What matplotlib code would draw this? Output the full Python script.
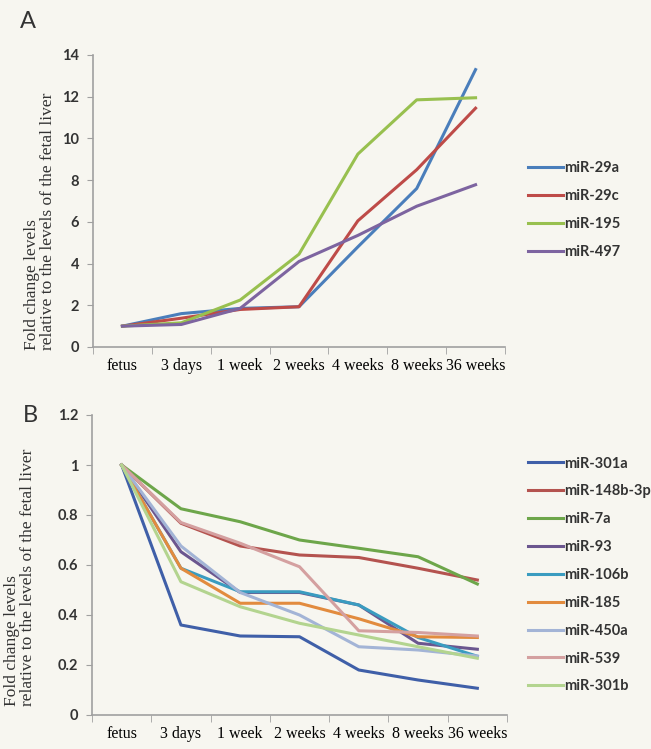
import matplotlib.pyplot as plt
from matplotlib.ticker import FixedLocator, FuncFormatter

# time points on the x axis
stages = ['fetus', '3 days', '1 week', '2 weeks', '4 weeks', '8 weeks', '36 weeks']

# panel A: up-regulated miRNAs
mir_29a = [1.0, 1.6, 1.85, 1.93, 4.8, 7.6, 13.3]
mir_29c = [1.0, 1.38, 1.8, 1.93, 6.05, 8.5, 11.45]
mir_195 = [1.0, 1.16, 2.25, 4.45, 9.25, 11.85, 11.95]
mir_497 = [1.0, 1.08, 1.85, 4.1, 5.35, 6.75, 7.78]

# panel B: down-regulated miRNAs
mir_301a = [1.0, 0.36, 0.316, 0.313, 0.18, 0.14, 0.107]
mir_148b = [1.0, 0.767, 0.676, 0.64, 0.63, 0.587, 0.54]
mir_7a = [1.0, 0.825, 0.773, 0.70, 0.667, 0.633, 0.524]
mir_93 = [1.0, 0.653, 0.49, 0.49, 0.44, 0.287, 0.263]
mir_106b = [1.0, 0.587, 0.493, 0.493, 0.44, 0.31, 0.235]
mir_185 = [1.0, 0.587, 0.447, 0.447, 0.385, 0.313, 0.31]
mir_450a = [1.0, 0.676, 0.49, 0.40, 0.273, 0.26, 0.236]
mir_539 = [1.0, 0.77, 0.687, 0.593, 0.337, 0.33, 0.316]
mir_301b = [1.0, 0.533, 0.433, 0.367, 0.32, 0.273, 0.227]

series_a = [('miR-29a', mir_29a, '#4a7ebb'),
            ('miR-29c', mir_29c, '#be4b48'),
            ('miR-195', mir_195, '#98c04f'),
            ('miR-497', mir_497, '#7d64a0')]
series_b = [('miR-301a', mir_301a, '#3f5fa8'),
            ('miR-148b-3p', mir_148b, '#b4534f'),
            ('miR-7a', mir_7a, '#6da64a'),
            ('miR-93', mir_93, '#6b568f'),
            ('miR-106b', mir_106b, '#3a9cc0'),
            ('miR-185', mir_185, '#e28b3e'),
            ('miR-450a', mir_450a, '#a3b4d6'),
            ('miR-539', mir_539, '#d4a0a0'),
            ('miR-301b', mir_301b, '#b3d48f')]

ylab = 'Fold change levels\nrelative to the levels of the fetal liver'

bg = '#f7f6f0'
W, H = 651, 749
fig = plt.figure(figsize=(W / 100, H / 100), dpi=100, facecolor=bg)


def px_axes(left, top, right, bottom):
    return fig.add_axes([left / W, 1 - bottom / H, (right - left) / W, (bottom - top) / H])


def style_axes(ax, ymax, ystep):
    ax.set_facecolor(bg)
    ax.set_xlim(-0.5, len(stages) - 0.5)
    ax.set_ylim(0, ymax)
    ax.set_yticks([i * ystep for i in range(int(round(ymax / ystep)) + 1)])
    ax.yaxis.set_major_formatter(FuncFormatter(lambda v, p: '%g' % round(v, 2)))
    ax.set_xticks(range(len(stages)))
    ax.set_xticklabels(stages, family='Liberation Serif', fontsize=11.5)
    ax.xaxis.set_minor_locator(FixedLocator([i - 0.5 for i in range(len(stages) + 1)]))
    ax.tick_params(axis='x', which='major', length=0, pad=8)
    ax.tick_params(axis='x', which='minor', length=5, color='#a0a0a0')
    ax.tick_params(axis='y', length=4, color='#a0a0a0', labelsize=10.5, pad=6)
    for lab in ax.get_yticklabels():
        lab.set_family('Lato')
        lab.set_fontweight('bold')
        lab.set_color('#333333')
    for s in ['top', 'right']:
        ax.spines[s].set_visible(False)
    for s in ['left', 'bottom']:
        ax.spines[s].set_color('#a0a0a0')
        ax.spines[s].set_linewidth(1.2)


def add_legend(ax, ycenter):
    ax.legend(loc='center left', bbox_to_anchor=(528 / W, 1 - ycenter / H),
              bbox_transform=fig.transFigure, frameon=False, borderpad=0,
              borderaxespad=0, handlelength=2.4, handletextpad=0.1,
              labelspacing=0.95, prop={'family': 'Lato', 'weight': 'bold', 'size': 10.5},
              labelcolor='#333333')


def add_ylabel(ax, xcoord, ycoord):
    ax.set_ylabel(ylab, family='Liberation Serif', fontsize=12.5, color='#333333',
                  linespacing=1.0, multialignment='left')
    ax.yaxis.set_label_coords(xcoord, ycoord)


# panel A
ax1 = px_axes(93, 55, 505, 347)
for name, vals, col in series_a:
    ax1.plot(range(len(stages)), vals, color=col, lw=2.2, label=name)
style_axes(ax1, 14, 2)
add_ylabel(ax1, (56 - 93) / 412, 0.43)
add_legend(ax1, 210)
fig.text(20 / W, 1 - 22 / H, 'A', fontsize=17, family='Lato', va='center', color='#333333')

# panel B
ax2 = px_axes(92, 415, 507, 715)
for name, vals, col in series_b:
    ax2.plot(range(len(stages)), vals, color=col, lw=2.2, label=name)
style_axes(ax2, 1.2, 0.2)
add_ylabel(ax2, (36 - 92) / 415, 0.46)
add_legend(ax2, 575)
fig.text(23 / W, 1 - 415 / H, 'B', fontsize=17, family='Lato', va='center', color='#333333')

fig.savefig('out.png', dpi=100, facecolor=bg)
